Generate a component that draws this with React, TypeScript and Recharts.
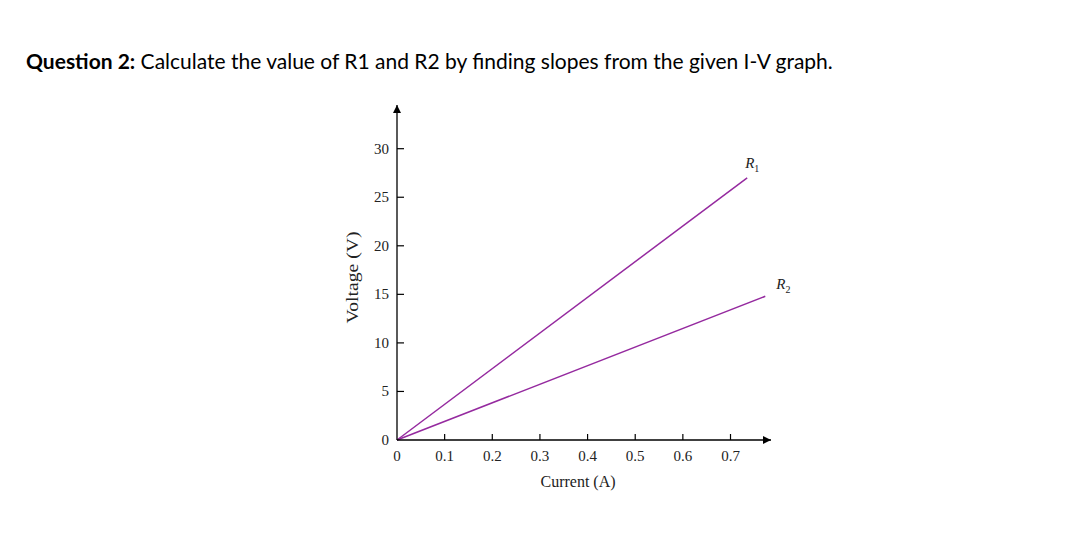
import React from 'react';
import { LineChart, Line, XAxis, YAxis, Label } from 'recharts';

const xTicks = [0, 0.1, 0.2, 0.3, 0.4, 0.5, 0.6, 0.7];
const yTicks = [0, 5, 10, 15, 20, 25, 30];
const r1Points = [{ current: 0, voltage: 0 }, { current: 0.735, voltage: 27 }];
const r2Points = [{ current: 0, voltage: 0 }, { current: 0.773, voltage: 14.8 }];

const LINE_COLOR = '#952a9f';
const SERIF = '"Liberation Serif", "Times New Roman", serif';

const XTick = (props: any) => {
  const { x, y, payload } = props;
  return (
    <g>
      {payload.value !== 0 && <line x1={x} y1={y} x2={x} y2={y - 6} stroke="#000" strokeWidth={1.2} />}
      <text x={x} y={y + 21} textAnchor="middle" fontFamily={SERIF} fontSize={15} fill="#222">
        {payload.value}
      </text>
    </g>
  );
};

const YTick = (props: any) => {
  const { x, y, payload } = props;
  return (
    <g>
      {payload.value !== 0 && <line x1={x} y1={y} x2={x + 7} y2={y} stroke="#000" strokeWidth={1.2} />}
      <text x={x - 8} y={y + 5} textAnchor="end" fontFamily={SERIF} fontSize={15} fill="#222">
        {payload.value}
      </text>
    </g>
  );
};

const endLabel = (name: string, sub: string, dx: number, dy: number) => (props: any) => {
  const { x, y, index } = props;
  if (index !== 1) return null;
  return (
    <text x={x + dx} y={y + dy} fontFamily={SERIF} fontStyle="italic" fontSize={15} fill="#222">
      {name}
      <tspan fontStyle="normal" fontSize={10} dy={4}>{sub}</tspan>
    </text>
  );
};

export default function App() {
  return (
    <div style={{ position: 'absolute', left: 0, top: 0, width: 1086, height: 533, background: '#fff' }}>
      <div
        style={{
          position: 'absolute',
          left: 26,
          top: 48,
          fontFamily: 'Lato, "Open Sans", sans-serif',
          fontSize: 21,
          color: '#000',
          whiteSpace: 'nowrap',
        }}
      >
        <b>Question 2:</b> Calculate the value of R1 and R2 by finding slopes from the given I-V graph.
      </div>
      <div style={{ position: 'absolute', left: 300, top: 90 }}>
        <LineChart width={520} height={420} margin={{ top: 15, right: 49, left: 37, bottom: 10 }}>
          <defs>
            <marker id="arrowHead" viewBox="0 0 10 10" refX="10" refY="5" markerWidth="9" markerHeight="8"
              markerUnits="userSpaceOnUse" orient="auto-start-reverse">
              <path d="M0,0 L10,5 L0,10 z" fill="#000" />
            </marker>
          </defs>
          <XAxis
            type="number"
            dataKey="current"
            domain={[0, 0.785]}
            ticks={xTicks}
            interval={0}
            height={60}
            tickSize={0}
            tickMargin={0}
            tickLine={false}
            tick={<XTick />}
            axisLine={{ stroke: '#000', strokeWidth: 1.3, markerEnd: 'url(#arrowHead)' }}
          >
            <Label
              content={(p: any) => {
                const vb = p.viewBox;
                return (
                  <text x={vb.x + vb.width / 2 - 6} y={vb.y + 47} textAnchor="middle" fontFamily={SERIF} fontSize={16} fill="#222">
                    Current (A)
                  </text>
                );
              }}
            />
          </XAxis>
          <YAxis
            type="number"
            dataKey="voltage"
            domain={[0, 34.5]}
            ticks={yTicks}
            interval={0}
            width={60}
            tickSize={0}
            tickMargin={0}
            tickLine={false}
            tick={<YTick />}
            axisLine={{ stroke: '#000', strokeWidth: 1.3, markerStart: 'url(#arrowHead)' }}
          >
            <Label
              content={(p: any) => {
                const vb = p.viewBox;
                const cx = vb.x + 21;
                const cy = vb.y + vb.height / 2 + 5;
                return (
                  <text x={cx} y={cy} transform={`rotate(-90 ${cx} ${cy})`} textAnchor="middle"
                    fontFamily={SERIF} fontSize={16} fill="#222" textLength={92} lengthAdjust="spacingAndGlyphs">
                    Voltage (V)
                  </text>
                );
              }}
            />
          </YAxis>
          <Line
            data={r1Points}
            dataKey="voltage"
            stroke={LINE_COLOR}
            strokeWidth={1.5}
            dot={false}
            isAnimationActive={false}
            label={endLabel('R', '1', -2, -10)}
          />
          <Line
            data={r2Points}
            dataKey="voltage"
            stroke={LINE_COLOR}
            strokeWidth={1.5}
            dot={false}
            isAnimationActive={false}
            label={endLabel('R', '2', 11, -7)}
          />
        </LineChart>
      </div>
    </div>
  );
}
